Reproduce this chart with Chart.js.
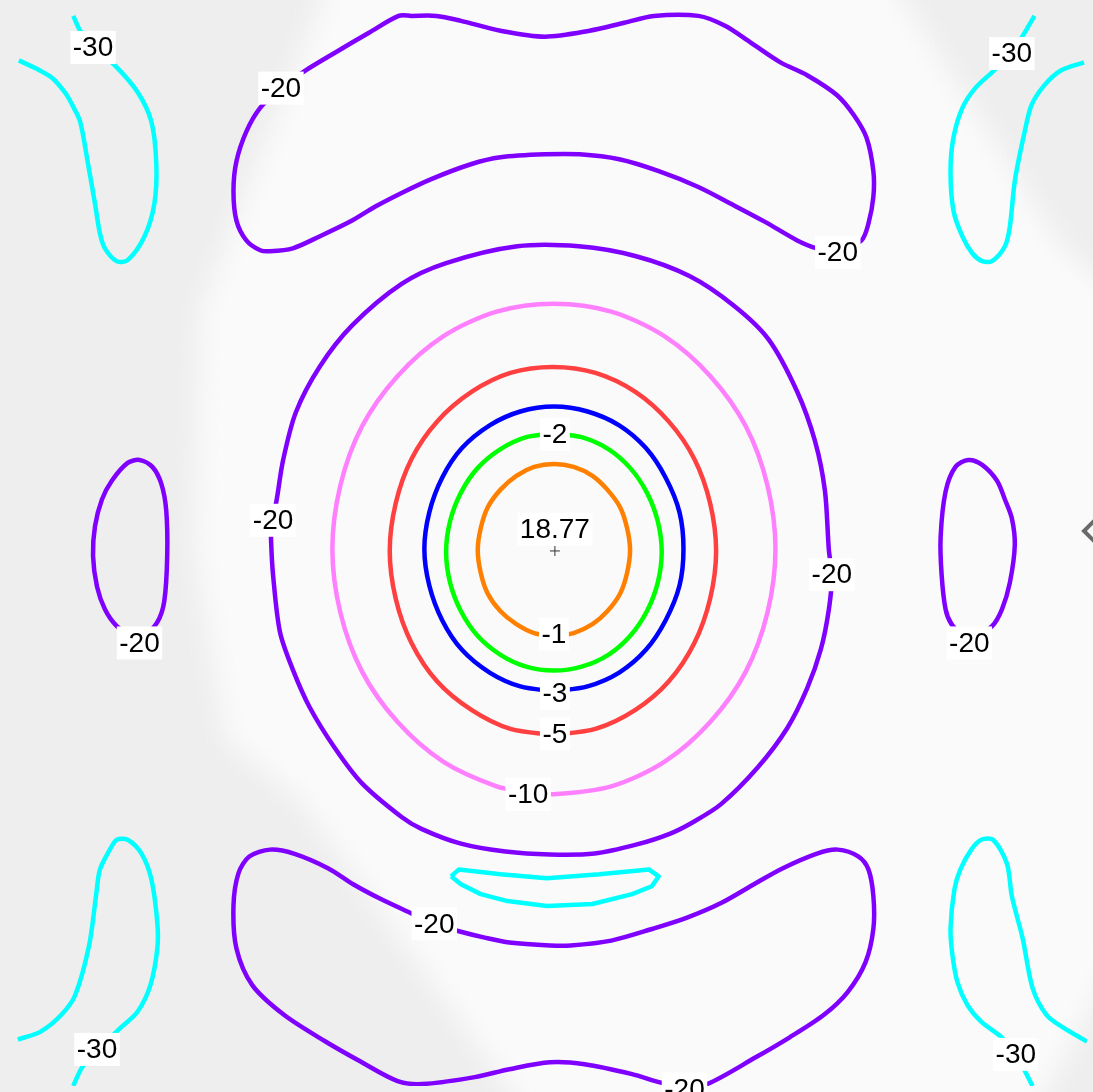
<!DOCTYPE html>
<html>
<head>
<meta charset="utf-8">
<script src="https://cdn.jsdelivr.net/npm/chart.js@4/dist/chart.umd.min.js"></script>
<style>
  html, body { margin: 0; padding: 0; background: #eeeeee; }
  #wrap { width: 1093px; height: 1092px; position: relative; }
</style>
</head>
<body>
<div id="wrap"><canvas id="contourChart"></canvas></div>
<script>
// grid units: x 0..109.3, y 0..109.2 (rows counted from the top)
const ring1 = [[55.4,63.7],[53.4,63.4],[51.6,62.5],[50.0,61.2],[48.7,59.4],[48.0,57.3],[47.7,55.0],[48.0,52.8],[48.7,50.7],[50.0,48.9],[51.6,47.5],[53.4,46.6],[55.4,46.3],[57.4,46.6],[59.3,47.5],[60.8,48.9],[62.1,50.7],[62.8,52.8],[63.1,55.0],[62.8,57.3],[62.1,59.4],[60.8,61.2],[59.3,62.5],[57.4,63.4],[55.4,63.7]];
const ring2 = [[55.4,43.2],[58.2,43.6],[60.9,44.8],[63.1,46.7],[64.8,49.2],[65.9,52.1],[66.3,55.2],[65.9,58.3],[64.8,61.2],[63.1,63.7],[60.9,65.6],[58.2,66.8],[55.4,67.2],[52.6,66.8],[50.0,65.6],[47.7,63.7],[46.0,61.2],[44.9,58.3],[44.5,55.2],[44.9,52.1],[46.0,49.2],[47.7,46.7],[50.0,44.8],[52.6,43.6],[55.4,43.2]];
const ring3 = [[55.4,69.3],[52.0,68.8],[48.9,67.4],[46.1,65.1],[44.1,62.1],[42.8,58.6],[42.3,54.9],[42.8,51.2],[44.1,47.7],[46.1,44.7],[48.9,42.4],[52.0,41.0],[55.4,40.5],[58.8,41.0],[62.0,42.4],[64.7,44.7],[66.7,47.7],[68.1,51.2],[68.5,54.9],[68.1,58.6],[66.7,62.1],[64.7,65.1],[62.0,67.4],[58.8,68.8],[55.4,69.3]];
const ring5 = [[55.3,73.7],[51.0,73.1],[47.1,71.2],[43.6,68.3],[41.0,64.4],[39.4,59.9],[38.8,55.1],[39.4,50.3],[41.0,45.8],[43.6,42.0],[47.1,39.0],[51.0,37.1],[55.3,36.5],[59.6,37.1],[63.6,39.0],[67.0,42.0],[69.6,45.8],[71.2,50.3],[71.8,55.1],[71.2,59.9],[69.6,64.4],[67.0,68.3],[63.6,71.2],[59.6,73.1],[55.3,73.7]];
const ring10 = [[52.8,79.5],[49.6,78.9],[44.2,76.4],[39.6,72.4],[36.0,67.3],[33.8,61.3],[33.0,54.9],[33.8,48.5],[36.0,42.5],[39.6,37.4],[44.2,33.4],[49.6,30.9],[55.4,30.1],[61.2,30.9],[66.6,33.4],[71.2,37.4],[74.8,42.5],[77.0,48.5],[77.8,54.9],[77.0,61.3],[74.8,67.3],[71.2,72.4],[66.6,76.4],[61.2,78.9],[55.4,79.7],[52.8,79.5]];
const ring20 = [[26.8,52.0],[27.3,50.3],[28.0,46.0],[29.3,41.1],[31.7,36.5],[35.0,32.3],[40.0,28.1],[44.5,26.0],[51.7,24.3],[57.9,24.3],[63.7,25.3],[69.1,27.3],[73.6,30.3],[77.1,33.7],[80.0,39.0],[81.8,44.0],[82.8,49.0],[83.2,55.0],[83.5,57.6],[83.2,61.0],[82.4,65.0],[81.0,69.0],[79.0,73.0],[76.0,77.0],[72.3,80.7],[69.5,82.5],[67.1,83.7],[63.7,84.8],[59.5,85.7],[55.0,85.8],[50.5,85.5],[46.0,84.7],[42.0,83.2],[40.0,82.0],[36.0,78.6],[33.3,75.1],[30.7,70.9],[29.0,67.1],[27.7,63.3],[27.0,57.5],[26.8,54.0],[26.8,52.0]];
const sideLeft20 = [[13.5,64.4],[15.3,62.3],[16.0,60.2],[16.3,55.6],[16.2,51.0],[15.7,48.3],[14.8,46.6],[13.5,45.9],[12.3,46.2],[10.7,48.0],[9.7,49.9],[9.0,52.6],[8.8,55.6],[9.2,58.7],[10.0,61.0],[11.2,62.7],[13.5,64.4]];
const sideRight20 = [[97.3,64.4],[99.7,62.7],[100.7,61.0],[101.5,58.3],[102.0,54.5],[101.7,51.8],[101.0,49.9],[100.2,48.0],[98.7,46.4],[97.3,45.9],[96.0,46.6],[95.0,49.1],[94.5,53.7],[94.6,57.5],[95.0,61.0],[95.6,62.5],[97.3,64.4]];
const top20 = [[27.8,8.3],[30.0,6.7],[33.3,4.7],[36.7,2.7],[39.7,1.0],[41.0,1.0],[43.5,1.0],[46.0,1.5],[50.0,2.5],[54.5,3.1],[59.0,2.5],[62.5,1.7],[65.5,1.0],[70.0,1.0],[72.7,2.0],[75.3,3.7],[78.3,5.7],[81.0,7.0],[84.0,9.0],[85.7,11.0],[87.0,13.3],[87.7,16.7],[87.7,19.3],[87.2,22.0],[86.5,23.7],[84.2,24.8],[82.0,24.5],[80.0,23.7],[76.7,21.8],[73.3,20.0],[70.0,18.3],[66.0,16.7],[62.0,15.5],[58.0,15.0],[54.5,15.0],[50.0,15.3],[47.0,16.0],[43.0,17.5],[40.0,18.9],[37.3,20.3],[34.8,21.8],[31.7,23.3],[29.0,24.5],[26.7,24.8],[25.7,24.7],[24.3,23.7],[23.3,21.7],[23.0,18.7],[23.3,15.7],[24.3,12.7],[25.7,10.3],[27.8,8.3]];
const bottom20 = [[43.2,92.8],[41.1,91.8],[37.9,90.3],[35.1,88.8],[32.6,87.2],[29.1,85.7],[26.7,85.3],[24.6,86.0],[23.5,87.7],[23.0,91.0],[23.3,95.3],[24.9,99.0],[28.1,102.0],[32.3,104.7],[35.8,106.7],[39.6,108.7],[42.1,109.0],[47.4,108.3],[50.9,107.5],[55.0,106.8],[58.5,107.0],[63.3,108.0],[66.4,108.9],[68.8,109.2],[70.9,109.0],[75.8,106.3],[79.2,104.3],[82.7,102.0],[85.1,99.7],[86.9,96.7],[87.7,93.3],[87.7,90.0],[87.2,87.3],[86.2,86.0],[84.1,85.3],[82.0,85.7],[78.5,87.2],[75.8,88.7],[72.3,90.7],[68.8,92.2],[65.4,93.3],[61.2,94.5],[57.1,95.0],[55.0,95.0],[50.9,94.7],[48.4,94.2],[45.6,93.5],[43.2,92.8]];
const cornerTL30 = [[1.3,5.5],[3.0,6.3],[4.7,7.3],[6.0,8.8],[6.7,10.0],[7.5,11.7],[8.3,16.0],[9.0,20.0],[9.5,23.0],[10.0,24.5],[11.2,25.8],[12.3,25.7],[14.0,23.3],[15.0,20.0],[15.2,16.0],[14.7,11.7],[13.3,8.7],[11.0,6.0],[8.8,4.2],[7.5,2.5],[6.8,1.0]];
const cornerTR30 = [[104.0,1.0],[101.7,4.7],[99.7,6.7],[98.0,8.3],[96.7,10.3],[95.8,13.3],[95.5,16.7],[95.8,20.7],[96.7,23.3],[97.7,25.0],[98.7,25.8],[99.7,25.8],[101.0,24.3],[101.5,22.3],[102.0,17.7],[103.0,12.7],[103.7,10.0],[105.0,8.0],[106.7,6.5],[109.0,5.7]];
const cornerBL30 = [[1.2,104.5],[3.5,103.7],[5.6,102.0],[7.0,100.0],[8.4,95.0],[9.1,90.0],[9.5,87.3],[10.5,85.3],[11.2,84.3],[12.3,84.3],[13.7,85.7],[14.7,88.3],[15.3,92.7],[15.3,95.3],[14.6,99.0],[13.3,101.7],[11.6,103.3],[9.3,105.5],[7.7,107.3],[6.8,109.2]];
const cornerBR30 = [[103.8,109.2],[102.1,106.0],[100.7,104.3],[98.6,102.7],[97.2,101.0],[96.2,98.7],[95.7,96.0],[95.5,93.3],[95.9,89.3],[96.5,87.3],[97.6,85.3],[98.6,84.3],[99.8,84.3],[101.2,86.7],[101.7,90.0],[102.8,94.3],[103.8,99.3],[105.2,102.0],[106.9,103.3],[109.3,104.7]];
const sliver30 = [[45.0,88.0],[45.8,87.3],[50.0,87.8],[54.7,88.2],[60.0,87.8],[65.0,87.3],[66.0,88.0],[65.3,89.0],[63.3,89.8],[59.3,90.8],[54.7,91.0],[50.7,90.5],[48.0,89.8],[46.0,88.8],[45.0,88.0]];

const peakValue = '18.77';
const peakPos = [55.5, 55.1];

const labelText = ['-30','-20','-30','-20','-20','-2','-1','-3','-5','-10','-20','-20','-20','-20','-30','-30','-20'];
const labelX = [8.8, 27.8, 101.7, 84.1, 27.0, 55.5, 55.4, 55.5, 55.5, 52.8, 83.5, 13.5, 97.4, 43.3, 9.2, 102.1, 68.6];
const labelY = [4.2, 8.3, 4.8, 24.9, 52.0, 43.3, 63.5, 69.5, 73.6, 79.7, 57.5, 64.4, 64.4, 92.8, 105.5, 106.0, 109.5];

const levelColors = { '-1': '#ff8000', '-2': '#00ff00', '-3': '#0000ff', '-5': '#ff4040', '-10': '#ff80ff', '-20': '#8000ff', '-30': '#00ffff' };

const contours = [
  { level: '-30', pts: cornerTL30 }, { level: '-30', pts: cornerTR30 },
  { level: '-30', pts: cornerBL30 }, { level: '-30', pts: cornerBR30 },
  { level: '-30', pts: sliver30, sharp: true },
  { level: '-20', pts: top20 }, { level: '-20', pts: bottom20 },
  { level: '-20', pts: sideLeft20 }, { level: '-20', pts: sideRight20 },
  { level: '-20', pts: ring20 },
  { level: '-10', pts: ring10 }, { level: '-5', pts: ring5 },
  { level: '-3', pts: ring3 }, { level: '-2', pts: ring2 }, { level: '-1', pts: ring1 }
];

const datasets = contours.map(c => ({
  data: c.pts.map(p => ({ x: p[0], y: p[1] })),
  showLine: true,
  borderColor: levelColors[c.level],
  borderWidth: 4.5,
  pointRadius: 0,
  tension: c.sharp ? 0 : 0.3,
  borderJoinStyle: 'round'
}));

datasets.push({
  data: [{ x: peakPos[0], y: peakPos[1] }],
  pointStyle: 'cross',
  pointRadius: 5,
  borderColor: '#333333',
  borderWidth: 1,
  showLine: false
});

// soft backdrop and the handle at the right edge
const backdrop = {
  id: 'backdrop',
  beforeDraw(chart) {
    const ctx = chart.ctx;
    ctx.save();
    ctx.fillStyle = '#eeeeee';
    ctx.fillRect(0, 0, chart.width, chart.height);
    ctx.filter = 'blur(14px)';
    ctx.fillStyle = '#fafafa';
    ctx.beginPath();
    ctx.moveTo(345, -60);
    ctx.lineTo(865, -60);
    ctx.lineTo(1063, 248);
    ctx.lineTo(1160, 330);
    ctx.lineTo(1160, 880);
    ctx.lineTo(1010, 1160);
    ctx.lineTo(560, 1160);
    ctx.lineTo(300, 800);
    ctx.lineTo(225, 740);
    ctx.lineTo(195, 550);
    ctx.lineTo(200, 310);
    ctx.closePath();
    ctx.fill();
    ctx.restore();

    ctx.save();
    ctx.strokeStyle = '#6a6a6a';
    ctx.lineWidth = 4;
    ctx.beginPath();
    ctx.moveTo(1101, 514);
    ctx.lineTo(1084, 531);
    ctx.lineTo(1101, 548);
    ctx.stroke();
    ctx.restore();
  }
};

const contourLabels = {
  id: 'contourLabels',
  afterDatasetsDraw(chart) {
    const ctx = chart.ctx;
    const xs = chart.scales.x, ys = chart.scales.y;
    ctx.save();
    ctx.font = '28px "Liberation Sans", Arial, sans-serif';
    ctx.textAlign = 'center';
    ctx.textBaseline = 'middle';
    const draw = (t, px, py) => {
      const w = ctx.measureText(t).width + 5;
      ctx.fillStyle = '#ffffff';
      ctx.fillRect(px - w / 2, py - 16.5, w, 33);
      ctx.fillStyle = '#000000';
      ctx.fillText(t, px, py + 1);
    };
    labelText.forEach((t, i) => draw(t, xs.getPixelForValue(labelX[i]), ys.getPixelForValue(labelY[i])));
    draw(peakValue, xs.getPixelForValue(55.5), ys.getPixelForValue(52.9));
    ctx.restore();
  }
};

window.onload = function() {
  const ctx = document.getElementById('contourChart').getContext('2d');
  new Chart(ctx, {
    type: 'scatter',
    data: { datasets: datasets },
    options: {
      responsive: true,
      maintainAspectRatio: false,
      animation: false,
      layout: { padding: 0 },
      plugins: { legend: { display: false }, tooltip: { enabled: false } },
      scales: {
        x: { type: 'linear', min: 0, max: 109.3, display: false },
        y: { type: 'linear', min: 0, max: 109.2, reverse: true, display: false }
      }
    },
    plugins: [backdrop, contourLabels]
  });
};
</script>
</body>
</html>
